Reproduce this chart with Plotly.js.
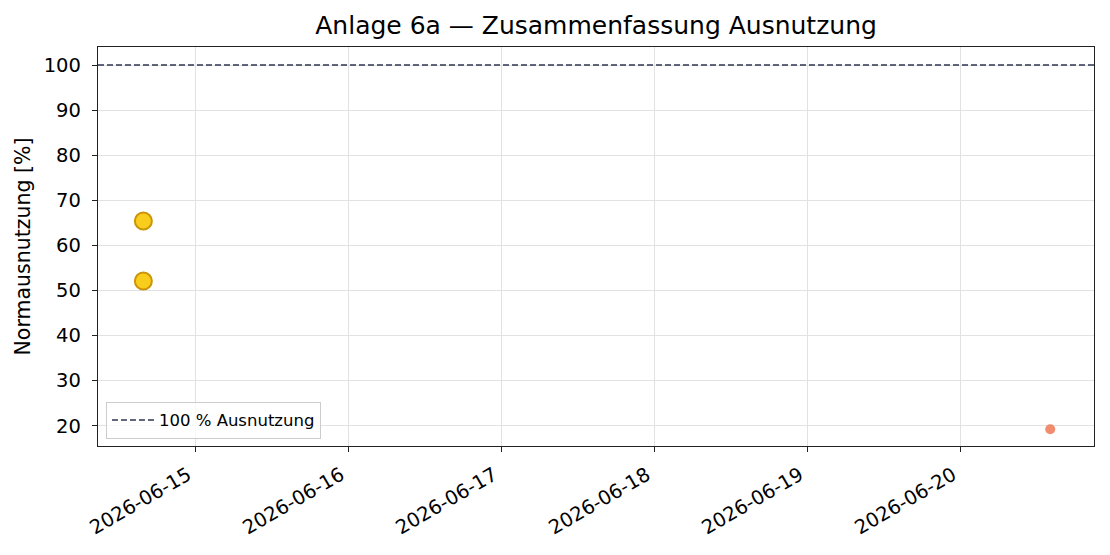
<!DOCTYPE html>
<html>
<head>
<meta charset="utf-8">
<script src="https://cdn.plot.ly/plotly-3.0.1.min.js"></script>
<style>
  body { margin: 0; background: white; }
  #chart { width: 1110px; height: 555px; }
</style>
</head>
<body>
<div id="chart"></div>
<script>
// Messpunkte Ausnutzung
var gelbZeit = ['2026-06-14 15:45', '2026-06-14 15:45'];
var gelbWert = [65.4, 52.1];

var rotZeit = ['2026-06-20 14:00'];
var rotWert = [19.2];

var grenze = 100;
var grenzeName = '100 % Ausnutzung';

var xBereich = ['2026-06-14 08:38', '2026-06-20 20:52'];
var yBereich = [15.5, 104];

var gelb = {
  x: gelbZeit,
  y: gelbWert,
  type: 'scatter',
  mode: 'markers',
  showlegend: false,
  hoverinfo: 'x+y',
  marker: {
    size: 17,
    color: '#f9cd1c',
    line: {
      color: '#cc9407',
      width: 2
    }
  }
};

var rot = {
  x: rotZeit,
  y: rotWert,
  type: 'scatter',
  mode: 'markers',
  showlegend: false,
  hoverinfo: 'x+y',
  marker: {
    size: 10,
    color: 'rgba(240,120,85,0.85)'
  }
};

// nur fuer die Legende, die Linie selbst ist eine shape
var grenzeLegende = {
  x: [null],
  y: [null],
  type: 'scatter',
  mode: 'lines',
  name: grenzeName,
  line: {
    color: '#2e3550',
    width: 1.4,
    dash: '6px,3px'
  }
};

var layout = {
  width: 1110,
  height: 555,
  paper_bgcolor: 'white',
  plot_bgcolor: 'white',
  font: {
    family: 'DejaVu Sans, sans-serif',
    color: 'black',
    size: 19.5
  },
  title: {
    text: 'Anlage 6a — Zusammenfassung Ausnutzung',
    font: { size: 25 },
    x: 0.537,
    xanchor: 'center',
    y: 0.955,
    yanchor: 'middle'
  },
  margin: {
    t: 47,
    r: 16,
    b: 109,
    l: 98,
    pad: 0
  },
  xaxis: {
    type: 'date',
    range: xBereich,
    tick0: '2026-06-15',
    dtick: 86400000,
    tickformat: '%Y-%m-%d',
    tickangle: -30,
    ticklabelshift: -8,
    ticklabelstandoff: 4,
    ticks: 'outside',
    ticklen: 5,
    tickcolor: '#222',
    showline: true,
    linecolor: '#222',
    linewidth: 1.2,
    mirror: true,
    showgrid: true,
    gridcolor: '#e2e2e2',
    zeroline: false
  },
  yaxis: {
    range: yBereich,
    tick0: 0,
    dtick: 10,
    ticklabelstandoff: 7,
    ticks: 'outside',
    ticklen: 5,
    tickcolor: '#222',
    showline: true,
    linecolor: '#222',
    linewidth: 1.2,
    mirror: true,
    showgrid: true,
    gridcolor: '#e2e2e2',
    zeroline: false,
    title: {
      text: 'Normausnutzung [%]',
      font: { size: 20.5 },
      standoff: 7
    }
  },
  shapes: [
    {
      type: 'line',
      xref: 'paper',
      x0: 0,
      x1: 1,
      yref: 'y',
      y0: grenze,
      y1: grenze,
      line: {
        color: '#2e3550',
        width: 1.4,
        dash: '6px,3px'
      }
    }
  ],
  showlegend: true,
  legend: {
    x: 0.008,
    y: 0.018,
    xanchor: 'left',
    yanchor: 'bottom',
    itemwidth: 42,
    bgcolor: 'rgba(255,255,255,0.8)',
    bordercolor: '#cccccc',
    borderwidth: 1,
    font: { size: 16.5 }
  }
};

Plotly.newPlot('chart', [gelb, rot, grenzeLegende], layout, { displayModeBar: false, staticPlot: true });
</script>
</body>
</html>
